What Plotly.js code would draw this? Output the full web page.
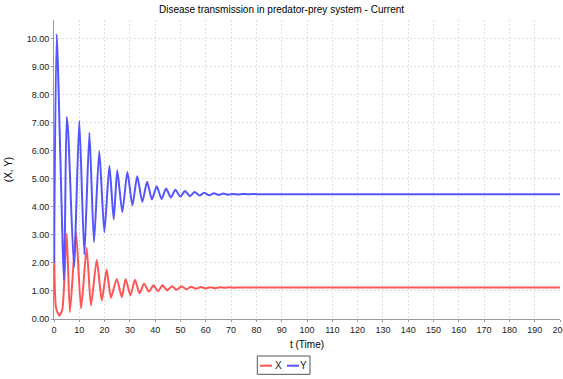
<!DOCTYPE html>
<html>
<head>
<meta charset="utf-8">
<script src="https://cdn.plot.ly/plotly-3.0.1.min.js"></script>
<style>html,body{margin:0;padding:0;background:#fff;}#chart{width:563px;height:379px;}</style>
</head>
<body>
<div id="chart"></div>
<script>
// Prey X (red)
var tX = [0, 0.8, 2.1, 3.3, 5.0, 6.3, 8.7, 10.7, 12.9, 14.6, 16.9, 18.9, 20.8, 22.5, 24.8, 26.8, 28.3, 30.2, 32.0, 33.8, 35.6, 37.5, 39.3, 41.1, 42.9, 44.7, 46.6, 48.5, 50.4, 52.3, 54.2, 56.1, 58.0, 59.9, 61.8, 63.7, 65.6, 67.5, 69.4, 71.3, 73.2, 75.1, 77.0, 80, 200];
var xVals = [5.0, 0.4, 0.12, 0.35, 3.04, 0.24, 3.08, 0.37, 2.54, 0.48, 2.11, 0.66, 1.76, 0.76, 1.43, 0.78, 1.43, 0.84, 1.40, 0.92, 1.26, 0.98, 1.20, 0.99, 1.20, 1.02, 1.17, 1.04, 1.17, 1.06, 1.15, 1.08, 1.14, 1.09, 1.135, 1.10, 1.13, 1.11, 1.13, 1.115, 1.125, 1.12, 1.125, 1.125, 1.125];
// Predator Y (blue)
var tY = [0, 1.07, 3.95, 5.0, 5.6, 7.9, 10.0, 12.0, 14.0, 15.8, 17.9, 19.9, 21.9, 23.6, 25.0, 27.0, 29.0, 31.0, 32.9, 34.9, 36.8, 38.7, 40.6, 42.5, 44.3, 46.2, 48.0, 49.9, 51.8, 53.7, 55.6, 57.5, 59.4, 61.3, 63.2, 65.1, 67.0, 68.9, 70.8, 72.7, 74.6, 76.5, 78.4, 80, 200];
var yVals = [2.0, 10.15, 1.37, 7.2, 6.67, 1.85, 7.06, 2.3, 6.64, 2.74, 5.99, 3.1, 5.46, 3.55, 5.3, 3.81, 5.24, 4.05, 5.09, 4.17, 4.89, 4.26, 4.73, 4.28, 4.65, 4.33, 4.61, 4.36, 4.56, 4.38, 4.53, 4.40, 4.50, 4.41, 4.48, 4.42, 4.47, 4.43, 4.46, 4.44, 4.46, 4.445, 4.455, 4.45, 4.45];
var seriesNames = ["X", "Y"];
var seriesColors = ["#ff5555", "#5555ff"];
var xTicks = [0,10,20,30,40,50,60,70,80,90,100,110,120,130,140,150,160,170,180,190,200];

var FAM = "Liberation Sans, Arial, sans-serif";
var traces = [
  {x: tX, y: xVals, name: seriesNames[0], type: "scatter", mode: "lines",
   line: {color: seriesColors[0], width: 2, shape: "spline", smoothing: 0.6}},
  {x: tY, y: yVals, name: seriesNames[1], type: "scatter", mode: "lines",
   line: {color: seriesColors[1], width: 2, shape: "spline", smoothing: 0.6}}
];

// compact boxed legend (JFreeChart style) below the plot
var legY = -0.1562;
var shapes = [
  {type: "rect", xref: "paper", yref: "paper", x0: 0.4018, x1: 0.5059, y0: -0.185, y1: -0.1237,
   line: {color: "#555", width: 1}, fillcolor: "#fff"},
  {type: "line", xref: "paper", yref: "paper", x0: 0.4071, x1: 0.4308, y0: legY, y1: legY,
   line: {color: seriesColors[0], width: 2}},
  {type: "line", xref: "paper", yref: "paper", x0: 0.4605, x1: 0.4842, y0: legY, y1: legY,
   line: {color: seriesColors[1], width: 2}}
];
var annotations = [
  {xref: "paper", yref: "paper", x: 0.4427, y: legY, text: seriesNames[0], showarrow: false,
   xanchor: "center", yanchor: "middle", font: {family: FAM, size: 10, color: "#222"}},
  {xref: "paper", yref: "paper", x: 0.494, y: legY, text: seriesNames[1], showarrow: false,
   xanchor: "center", yanchor: "middle", font: {family: FAM, size: 10, color: "#222"}}
];

var layout = {
  width: 563, height: 379,
  margin: {l: 54, r: 3, t: 20, b: 60},
  paper_bgcolor: "#fff", plot_bgcolor: "#fff",
  font: {family: FAM, size: 9, color: "#222"},
  title: {text: "Disease transmission in predator-prey system - Current",
    font: {family: FAM, size: 10, color: "#000"},
    xref: "container", x: 0.5, xanchor: "center", yref: "container", y: 0.976, yanchor: "middle"},
  xaxis: {range: [0, 200], tickvals: xTicks, ticktext: xTicks.map(String), ticklabeloverflow: "allow",
    showgrid: true, gridcolor: "#dedede", griddash: "2px,2px", gridwidth: 1,
    showline: true, linecolor: "#999", linewidth: 1, zeroline: false,
    ticks: "outside", ticklen: 2, tickcolor: "#999",
    title: {text: "t (Time)", font: {family: FAM, size: 10, color: "#000"}, standoff: 7}},
  yaxis: {range: [0, 10.66], dtick: 1, tick0: 0, tickformat: ".2f",
    showgrid: true, gridcolor: "#dedede", griddash: "2px,2px", gridwidth: 1,
    showline: true, linecolor: "#999", linewidth: 1, zeroline: false,
    ticks: "outside", ticklen: 2, tickcolor: "#999",
    title: {text: "(X, Y)", font: {family: FAM, size: 10, color: "#000"}, standoff: 12}},
  showlegend: false,
  shapes: shapes,
  annotations: annotations
};
Plotly.newPlot("chart", traces, layout, {displayModeBar: false, staticPlot: true});
</script>
</body>
</html>
